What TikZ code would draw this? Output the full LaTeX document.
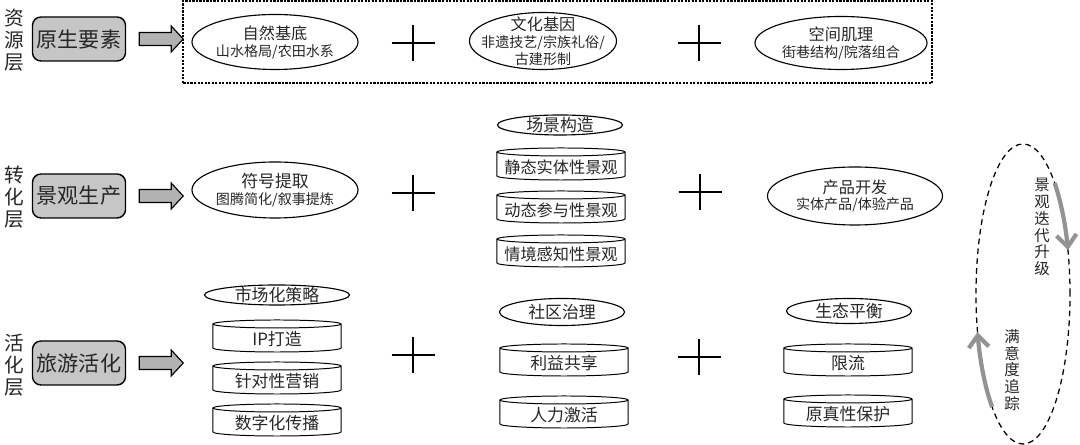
\documentclass[tikz,border=0pt]{standalone}
\usepackage{fontspec}
\newfontfamily\cjk{Noto Sans CJK SC}
\usetikzlibrary{shapes.geometric, arrows.meta}

\tikzset{
  txt/.style={font=\cjk, text=black!85, inner sep=0pt},
  layerlabel/.style={txt, align=center, font=\cjk\fontsize{14pt}{15.6pt}\selectfont},
  layerbox/.style={txt, draw, line width=1pt, fill=gray!45, rounded corners=6pt,
    minimum width=2.325cm, minimum height=1.1cm, font=\cjk\fontsize{15pt}{18pt}\selectfont},
  blockarrow/.style={draw, line width=0.8pt, fill=gray!60},
  outline/.style={line width=0.8pt},
  ovaltext/.style={txt, align=center},
  cyltext/.style={txt, font=\cjk\fontsize{12pt}{14pt}\selectfont},
  headtext/.style={txt, font=\cjk\fontsize{12pt}{14pt}\selectfont},
  looptext/.style={txt, align=center, font=\cjk\fontsize{11pt}{12pt}\selectfont},
  cyclearrow/.style={line width=3pt, draw=gray!85, -{Straight Barb[length=3mm, width=5mm]}},
  plusmark/.pic={\draw[line width=1.3pt] (-21.5,0) -- (21.5,0) (0,-18) -- (0,18);}
}

% 大椭圆：名称, x, y, x半径, y半径, 文字
\newcommand{\ovalnode}[6]{%
  \node[ovaltext] (#1) at (#2,#3) {#6};
  \draw[outline] (#1.center) ellipse [x radius=#4cm, y radius=#5cm];}

% 小椭圆标题：名称, x, y, x半径, y半径, 文字
\newcommand{\headnode}[6]{%
  \node[headtext] (#1) at (#2,#3) {#6};
  \draw[outline] (#1.center) ellipse [x radius=#4cm, y radius=#5cm];}

% 圆柱：名称, x, y, 文字
\newcommand{\cylnode}[4]{%
  \node[cyltext] (#1) at (#2,#3) {#4};
  \draw[line width=0.7pt] ([shift={(-1.6cm,0.375cm)}]#1.center) -- ([shift={(-1.6cm,-0.225cm)}]#1.center)
    arc[start angle=180, end angle=360, x radius=1.6cm, y radius=0.1cm]
    -- ([shift={(1.6cm,0.375cm)}]#1.center)
    arc[start angle=0, end angle=360, x radius=1.6cm, y radius=0.1cm];}

% 粗箭头：从层框右侧画出
\newcommand{\blockarrow}[1]{%
  \draw[blockarrow] (#1.east) ++(13,6.5) -- ++(32,0) -- ++(0,6.5) -- ++(12,-13)
    -- ++(-12,-13) -- ++(0,6.5) -- ++(-32,0) -- cycle;}

\begin{document}
\begin{tikzpicture}[x=0.025cm, y=0.025cm]
    \useasboundingbox (0,0) rectangle (1080,445);

    % 层名
    \node[layerlabel] (resL) at (14,405) {资\\源\\层};
    \node[layerlabel] (traL) at (14,248) {转\\化\\层};
    \node[layerlabel] (actL) at (14,80) {活\\化\\层};

    % 层框与箭头
    \node[layerbox] (prim) at (79,406) {原生要素};
    \node[layerbox] (land) at (79,249) {景观生产};
    \node[layerbox] (tour) at (79,82) {旅游活化};
    \blockarrow{prim}
    \blockarrow{land}
    \blockarrow{tour}

    % 资源层
    \draw[line width=1pt, dash pattern=on 1.6pt off 0.9pt] (183,362) rectangle (932,444);
    \ovalnode{nat}{275}{403}{2.075}{0.6875}{{\fontsize{11.5pt}{15.6pt}\selectfont 自然基底}\\{\fontsize{10pt}{15.6pt}\selectfont 山水格局/农田水系}}
    \ovalnode{cul}{543}{404}{1.8375}{0.7125}{{\fontsize{11.5pt}{13.5pt}\selectfont 文化基因}\\{\fontsize{10pt}{13.5pt}\selectfont 非遗技艺/宗族礼俗/}\\{\fontsize{10pt}{13.5pt}\selectfont 古建形制}}
    \ovalnode{spa}{841}{402}{2.15}{0.6625}{{\fontsize{11.5pt}{15.6pt}\selectfont 空间肌理}\\{\fontsize{10pt}{15.6pt}\selectfont 街巷结构/院落组合}}
    \pic at (413,402) {plusmark};
    \pic at (699,402) {plusmark};

    % 转化层
    \ovalnode{sym}{275}{255}{2.075}{0.7}{{\fontsize{12pt}{15.6pt}\selectfont 符号提取}\\{\fontsize{10pt}{15.6pt}\selectfont 图腾简化/叙事提炼}}
    \headnode{scn}{560}{320}{1.5625}{0.25}{场景构造}
    \cylnode{scnA}{561}{278}{\fontsize{11.5pt}{14pt}\selectfont 静态实体性景观}
    \cylnode{scnB}{561}{235}{\fontsize{11.5pt}{14pt}\selectfont 动态参与性景观}
    \cylnode{scnC}{561}{191}{\fontsize{11.5pt}{14pt}\selectfont 情境感知性景观}
    \ovalnode{pro}{855}{249}{2.1875}{0.725}{{\fontsize{11.5pt}{15.6pt}\selectfont 产品开发}\\{\fontsize{10pt}{15.6pt}\selectfont 实体产品/体验产品}}
    \pic at (413,252) {plusmark};
    \pic at (700,253) {plusmark};

    % 活化层
    \headnode{mkt}{277}{150}{1.8125}{0.25}{市场化策略}
    \cylnode{mktA}{277}{106}{IP打造}
    \cylnode{mktB}{277}{64}{针对性营销}
    \cylnode{mktC}{277}{22}{数字化传播}
    \headnode{com}{562}{133}{1.5625}{0.3375}{社区治理}
    \cylnode{comA}{564}{82}{利益共享}
    \cylnode{comB}{564}{30}{人力激活}
    \headnode{eco}{849}{134}{1.5625}{0.3125}{生态平衡}
    \cylnode{ecoA}{848}{82}{限流}
    \cylnode{ecoB}{848}{31}{原真性保护}
    \pic at (413,90) {plusmark};
    \pic at (699,88) {plusmark};

    % 反馈循环
    \node[draw, ellipse, dashed, line width=0.9pt, dash pattern=on 4pt off 3pt,
      minimum width=2.35cm, minimum height=7.5cm, inner sep=0pt] (loop) at (1023,151) {};
    \draw[cyclearrow] ([shift={(47.7:1.175cm and 3.75cm)}]loop.center)
      arc[start angle=47.7, end angle=17, x radius=1.175cm, y radius=3.75cm];
    \draw[cyclearrow] ([shift={(228.9:1.175cm and 3.75cm)}]loop.center)
      arc[start angle=228.9, end angle=194.7, x radius=1.175cm, y radius=3.75cm];
    \node[looptext] (upg) at (1042,218) {景\\观\\迭\\代\\升\\级};
    \node[looptext] (sat) at (1012,75) {满\\意\\度\\追\\踪};
\end{tikzpicture}
\end{document}
